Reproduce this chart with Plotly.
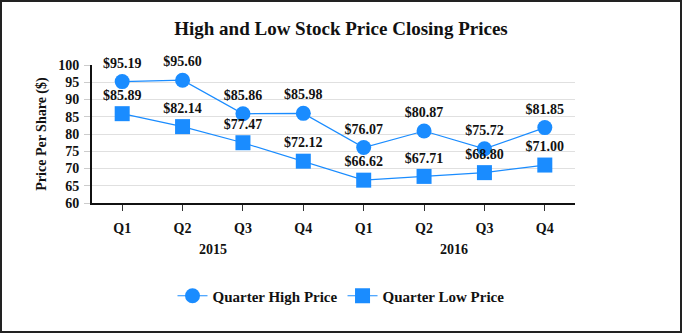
import plotly.graph_objects as go

quarters = ["Q1", "Q2", "Q3", "Q4", "Q1", "Q2", "Q3", "Q4"]
years = ["2015", "2016"]
high = [95.19, 95.60, 85.86, 85.98, 76.07, 80.87, 75.72, 81.85]
low = [85.89, 82.14, 77.47, 72.12, 66.62, 67.71, 68.80, 71.00]
yticks = [60, 65, 70, 75, 80, 85, 90, 95, 100]

blue = "#1a8cff"
font = "Liberation Serif"
xs = list(range(len(quarters)))

fig = go.Figure()
fig.add_trace(go.Scatter(
    x=xs, y=high, mode="lines+markers+text", name="<b>Quarter High Price</b>",
    line=dict(color=blue, width=1.2),
    marker=dict(symbol="circle", size=15, color=blue),
    text=[f"<b>${v:.2f}</b>" for v in high], textposition="top center",
    textfont=dict(family=font, size=14, color="#111"),
    cliponaxis=False,
))
fig.add_trace(go.Scatter(
    x=xs, y=low, mode="lines+markers+text", name="<b>Quarter Low Price</b>",
    line=dict(color=blue, width=1.2),
    marker=dict(symbol="square", size=15, color=blue),
    text=[f"<b>${v:.2f}</b>" for v in low], textposition="top center",
    textfont=dict(family=font, size=14, color="#111"),
    cliponaxis=False,
))

W, H = 682, 333
ml, mr, mt, mb = 92, 107, 65, 130
pw, ph = W - ml - mr, H - mt - mb

for i, yr in enumerate(years):
    fig.add_annotation(x=1.5 + 4 * i, y=-(249 - 203) / ph, xref="x", yref="paper",
                       yanchor="middle",
                       text=f"<b>{yr}</b>", showarrow=False,
                       font=dict(family=font, size=14, color="#111"))

fig.add_shape(type="rect", xref="paper", yref="paper",
              x0=-(ml - 1) / pw, x1=1 + (mr - 1) / pw,
              y0=-(mb - 1) / ph, y1=1 + (mt - 1) / ph,
              line=dict(color="#222", width=2))

fig.update_layout(
    width=W, height=H,
    margin=dict(l=ml, r=mr, t=mt, b=mb, autoexpand=False),
    paper_bgcolor="white", plot_bgcolor="white",
    title=dict(text="<b>High and Low Stock Price Closing Prices</b>",
               x=0.5, xanchor="center", xref="container", y=1 - 28 / H, yanchor="middle",
               yref="container",
               font=dict(family=font, size=19, color="#111")),
    font=dict(family=font, color="#111"),
    xaxis=dict(range=[-0.5, 7.5], tickvals=xs, ticktext=[f"<b>{q}</b>" for q in quarters],
               ticks="outside", ticklen=6, tickcolor="#333", showgrid=False,
               showline=True, linecolor="#111", linewidth=2, zeroline=False,
               automargin=False, tickangle=0, ticklabelstandoff=5,
               tickfont=dict(family=font, size=14, color="#111")),
    yaxis=dict(range=[60, 100], tickvals=yticks, ticktext=[f"<b>{v}</b>" for v in yticks],
               ticks="outside", ticklen=6, tickcolor="#ccc",
               showgrid=True, gridcolor="#e0e0e0", gridwidth=1,
               showline=True, linecolor="#111", linewidth=2, zeroline=False,
               automargin=False, ticklabelstandoff=2,
               title=dict(text="<b>Price Per Share ($)</b>", standoff=8,
                          font=dict(family=font, size=14, color="#111")),
               tickfont=dict(family=font, size=14, color="#111")),
    legend=dict(orientation="h", x=0.5, xanchor="center", xref="container",
                y=1 - 296 / H, yanchor="middle", yref="container",
                font=dict(family=font, size=15, color="#111")),
    showlegend=True,
)

fig.write_html("out.html")
